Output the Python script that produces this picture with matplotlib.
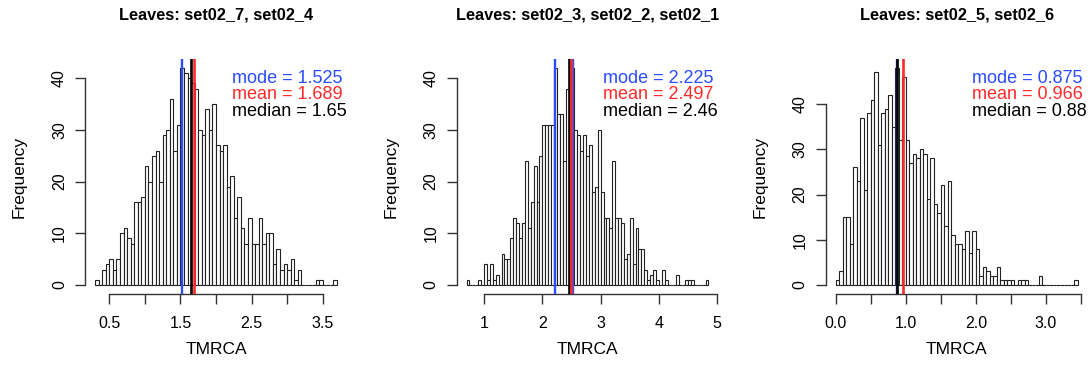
import numpy as np
import matplotlib
matplotlib.use('Agg')
import matplotlib.pyplot as plt

plt.rcParams['font.family'] = ['Liberation Sans', 'DejaVu Sans']

# histogram data: first bin edge, bin width 0.05, counts per bin
bin_width = 0.05

titles = ['Leaves: set02_7, set02_4',
          'Leaves: set02_3, set02_2, set02_1',
          'Leaves: set02_5, set02_6']

starts = [0.30, 0.70, 0.00]

counts_1 = [1, 0, 3, 4, 5, 3, 5, 10, 11, 9,
            8, 16, 16, 17, 23, 20, 25, 26, 20, 29,
            30, 36, 26, 31, 42, 41, 40, 39, 38, 30,
            29, 34, 30, 35, 27, 26, 27, 19, 21, 13,
            17, 11, 8, 13, 8, 8, 13, 8, 10, 10,
            4, 7, 3, 4, 3, 5, 1, 3, 0, 0,
            0, 0, 1, 1, 0, 0, 0, 1]

counts_2 = [1, 0, 0, 0, 1, 0, 4, 1, 4, 1,
            2, 0, 6, 5, 5, 9, 13, 12, 9, 12,
            24, 11, 16, 23, 16, 25, 31, 31, 31, 31,
            42, 33, 33, 24, 38, 40, 42, 30, 29, 26,
            29, 25, 27, 18, 19, 30, 18, 13, 13, 11,
            24, 13, 13, 12, 5, 6, 13, 4, 11, 7,
            7, 3, 1, 2, 3, 1, 0, 3, 1, 0,
            0, 0, 2, 0, 0, 1, 1, 1, 0, 0,
            0, 0, 1]

counts_3 = [1, 3, 15, 15, 9, 26, 23, 37, 21, 38,
            41, 47, 31, 38, 39, 42, 35, 48, 32, 46,
            32, 27, 29, 28, 30, 29, 19, 28, 18, 16,
            22, 13, 23, 11, 9, 9, 8, 12, 7, 12,
            8, 2, 4, 3, 2, 2, 4, 1, 1, 1,
            1, 0, 1, 1, 1, 0, 0, 0, 2, 0,
            0, 0, 0, 0, 0, 0, 0, 0, 1]

mode_labels = ['1.525', '2.225', '0.875']
mean_vals = [1.689, 2.497, 0.966]
median_vals = ['1.65', '2.46', '0.88']

xticks_1 = [0.5, 1.0, 1.5, 2.0, 2.5, 3.0, 3.5]
xlabels_1 = ['0.5', '', '1.5', '', '2.5', '', '3.5']
xticks_2 = [1, 2, 3, 4, 5]
xlabels_2 = ['1', '2', '3', '4', '5']
xticks_3 = [0.0, 0.5, 1.0, 1.5, 2.0, 2.5, 3.0, 3.5]
xlabels_3 = ['0.0', '', '1.0', '', '2.0', '', '3.0', '']
yticks = [0, 10, 20, 30, 40]

all_counts = [counts_1, counts_2, counts_3]
all_xticks = [xticks_1, xticks_2, xticks_3]
all_xlabels = [xlabels_1, xlabels_2, xlabels_3]

W, H = 1090, 373
fig = plt.figure(figsize=(W / 100, H / 100), dpi=100)

ax_left_px = [85.4, 456.9, 826.0]
ax_w_px, ax_top_px, ax_bot_px = 261.2, 59.2, 293.7
ax_h_px = ax_bot_px - ax_top_px

axis_col = '#333333'
blue, red = '#2b4cff', '#ff2a2a'

for i in range(3):
    ax = fig.add_axes([ax_left_px[i] / W, (H - ax_bot_px) / H, ax_w_px / W, ax_h_px / H])
    counts = np.array(all_counts[i])
    edges = starts[i] + bin_width * np.arange(len(counts) + 1)
    ax.bar(edges[:-1], counts, width=bin_width, align='edge',
           color='white', edgecolor='#222222', linewidth=0.8)

    # R style ranges: 4% padding
    xr = edges[-1] - edges[0]
    ax.set_xlim(edges[0] - 0.04 * xr, edges[-1] + 0.04 * xr)
    ax.set_ylim(-0.04 * counts.max(), counts.max() * 1.04)

    centers = edges[:-1] + bin_width / 2
    for m in centers[counts == counts.max()]:
        ax.axvline(m, color=blue, lw=1.7, zorder=3)
    ax.axvline(float(median_vals[i]), color='black', lw=1.9, zorder=3)
    ax.axvline(mean_vals[i], color=red, lw=1.9, zorder=3)

    for s in ['top', 'right']:
        ax.spines[s].set_visible(False)
    ax.spines['left'].set_bounds(yticks[0], yticks[-1])
    ax.spines['bottom'].set_bounds(all_xticks[i][0], all_xticks[i][-1])
    for s in ['left', 'bottom']:
        ax.spines[s].set_color(axis_col)
        ax.spines[s].set_linewidth(1.0)

    ax.set_xticks(all_xticks[i])
    ax.set_xticklabels(all_xlabels[i], fontsize=11.5)
    ax.set_yticks(yticks)
    ax.set_yticklabels([str(t) for t in yticks], fontsize=11.5, rotation=90, va='center')
    ax.tick_params(axis='x', length=7.2, width=1.0, color=axis_col, pad=8.5)
    ax.tick_params(axis='y', length=7.2, width=1.0, color=axis_col, pad=6)

    ax.text(0.5, (ax_bot_px - 15) / ax_h_px, titles[i], transform=ax.transAxes,
            ha='center', va='center', fontsize=11.8, fontweight='bold')
    ax.text(-66 / ax_w_px, 0.5, 'Frequency', transform=ax.transAxes,
            ha='center', va='center', rotation=90, fontsize=12.5)
    ax.text(0.5, (ax_bot_px - 350) / ax_h_px, 'TMRCA', transform=ax.transAxes,
            ha='center', va='center', fontsize=12.5)

    lines = [('mode = ' + mode_labels[i], blue),
             ('mean = ' + str(mean_vals[i]), red),
             ('median = ' + median_vals[i], 'black')]
    for k, (txt, col) in enumerate(lines):
        ax.text(0.56, (ax_bot_px - 82.7 - 16.7 * k) / ax_h_px, txt, color=col,
                transform=ax.transAxes, ha='left', va='baseline', fontsize=13)

fig.savefig('out.png', dpi=100)
